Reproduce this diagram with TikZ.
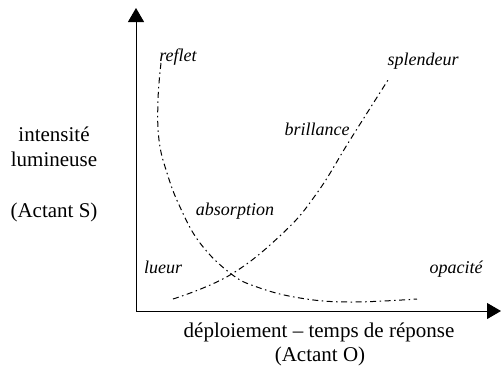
\documentclass[tikz,border=0pt]{standalone}
\usepackage{fontspec}
\setmainfont{Liberation Serif}
\usetikzlibrary{arrows.meta}
\usetikzlibrary{positioning}
\tikzset{axe/.style = {line width=1pt, -{Triangle[length=14pt, width=16pt]}}}
\tikzset{courbe/.style = {line width=1pt,
                          dash pattern=on 6pt off 3.5pt on 1.5pt off 3.5pt}}
\tikzset{regime/.style = {anchor=base, font=\fontsize{18}{20}\selectfont\itshape}}
\tikzset{legende/.style = {anchor=base, font=\fontsize{21}{25}\selectfont}}

\begin{document}
\begin{tikzpicture}[x=1pt, y=-1pt]
      \useasboundingbox (0, 0) rectangle (503, 365);

      \coordinate (O) at (136, 311);
      \coordinate (ymax) at (136, 8);
      \coordinate (xmax) at (501, 311);
      \draw [axe] (O) -- (ymax);
      \draw [axe] (O) -- (xmax);

      \node [legende] (intensite) at (54, 141) {intensité};
      \node [legende] (lumineuse) at (54, 166) {lumineuse};
      \node [legende] (actantS) at (54, 217) {(Actant S)};
      \node [legende] (deploiement) at (319, 337) {déploiement – temps de réponse};
      \node [legende] (actantO) at (320, 361) {(Actant O)};

      \draw [courbe] plot [smooth, tension=0.7] coordinates
        {(161, 63) (158, 100) (159, 140) (167, 173) (180, 207) (200, 243)
         (230, 273) (257, 287) (300, 298) (350, 302) (417, 299)};
      \draw [courbe] plot [smooth, tension=0.7] coordinates
        {(173, 299) (230, 275) (283, 233) (317, 193) (350, 140) (388, 80)};

      \node [regime] (reflet) at (178, 61) {reflet};
      \node [regime] (splendeur) at (423, 65) {splendeur};
      \node [regime] (brillance) at (317, 135) {brillance};
      \node [regime] (absorption) at (235, 215) {absorption};
      \node [regime] (lueur) at (163, 273) {lueur};
      \node [regime] (opacite) at (456, 273) {opacité};
    \end{tikzpicture}
\end{document}
